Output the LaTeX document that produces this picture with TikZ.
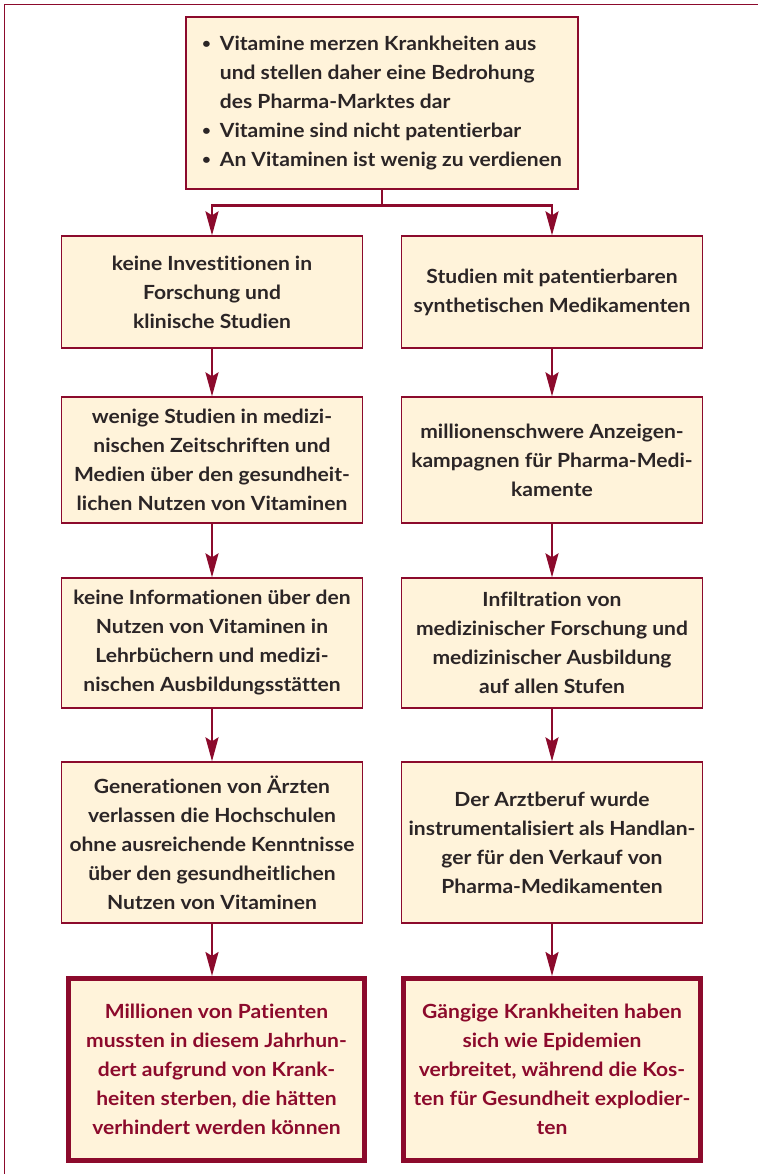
\documentclass[tikz,border=0pt]{standalone}
\usepackage{fontspec}
\setmainfont{Lato}[FakeStretch=1.08, Ligatures=NoCommon]
\usetikzlibrary{arrows.meta,calc}
\definecolor{wine}{HTML}{8C0A2C}
\definecolor{cream}{HTML}{FFF3DA}
\definecolor{ink}{HTML}{2B2526}
\newcommand{\smallbul}{\raisebox{0.12em}{\scalebox{0.72}{\textbullet}}}
\tikzset{
  box/.style={draw=wine, fill=cream, line width=1.3pt, align=center, inner sep=0pt,
    text=ink, font=\fontsize{19.5}{29}\selectfont\bfseries, minimum width=301pt},
  endbox/.style={box, line width=5pt, text=wine, minimum width=296pt, minimum height=182pt},
  arr/.style={draw=wine, line width=2.3pt, -{Stealth[length=24pt, width=13pt, inset=4pt]}},
  conn/.style={draw=wine, line width=2.3pt},
  frame/.style={draw=wine, line width=1.4pt}
}
\begin{document}
\begin{tikzpicture}[x=1pt, y=-1pt]
\useasboundingbox (0,0) rectangle (758,1174);
\coordinate (fa) at (4.7,1174);
\coordinate (fb) at (4.7,4.7);
\coordinate (fc) at (758,4.7);
\draw[frame] (fa) -- (fb) -- (fc);

\node[box, minimum width=392pt, minimum height=172pt] (top) at (382,103) {%
\begin{tabular}{@{}l@{\hspace{9pt}}l@{}}
\smallbul & Vitamine merzen Krankheiten aus\\
 & und stellen daher eine Bedrohung\\
 & des Pharma-Marktes dar\\
\smallbul & Vitamine sind nicht patentierbar\\
\smallbul & An Vitaminen ist wenig zu verdienen
\end{tabular}};

\node[box, minimum height=112pt] (l1) at (212,292) {keine Investitionen in\\Forschung und\\klinische Studien};
\node[box, minimum height=112pt] (r1) at (552,292) {Studien mit patentierbaren\\synthetischen Medikamenten};

\node[box, minimum height=126pt] (l2) at (212,460) {wenige Studien in medizi-\\nischen Zeitschriften und\\Medien über den gesundheit-\\lichen Nutzen von Vitaminen};
\node[box, minimum height=126pt] (r2) at (552,460) {millionenschwere Anzeigen-\\kampagnen für Pharma-Medi-\\kamente};

\node[box, minimum height=130pt] (l3) at (212,643) {keine Informationen über den\\Nutzen von Vitaminen in\\Lehrbüchern und medizi-\\nischen Ausbildungsstätten};
\node[box, minimum height=130pt] (r3) at (552,643) {Infiltration von\\medizinischer Forschung und\\medizinischer Ausbildung\\auf allen Stufen};

\node[box, minimum height=161pt] (l4) at (212,842.5) {Generationen von Ärzten\\verlassen die Hochschulen\\ohne ausreichende Kenntnisse\\über den gesundheitlichen\\Nutzen von Vitaminen};
\node[box, minimum height=161pt] (r4) at (552,842.5) {Der Arztberuf wurde\\instrumentalisiert als Handlan-\\ger für den Verkauf von\\Pharma-Medikamenten};

\node[endbox] (l5) at (216.5,1069.5) {Millionen von Patienten\\mussten in diesem Jahrhun-\\dert aufgrund von Krank-\\heiten sterben, die hätten\\verhindert werden können};
\node[endbox, minimum width=297pt] (r5) at (552,1069.5) {Gängige Krankheiten haben\\sich wie Epidemien\\verbreitet, während die Kos-\\ten für Gesundheit explodier-\\ten};

\coordinate (split) at ($(top.south)+(0,16)$);
\draw[conn] (top.south) -- (split);
\draw[arr] (split) -| (l1.north);
\draw[arr] (split) -| (r1.north);
\draw[arr] (l1.south) -- (l2.north);
\draw[arr] (l2.south) -- (l3.north);
\draw[arr] (l3.south) -- (l4.north);
\draw[arr] (l4.south) -- (l4.south |- l5.north);
\draw[arr] (r1.south) -- (r2.north);
\draw[arr] (r2.south) -- (r3.north);
\draw[arr] (r3.south) -- (r4.north);
\draw[arr] (r4.south) -- (r4.south |- r5.north);
\end{tikzpicture}
\end{document}
